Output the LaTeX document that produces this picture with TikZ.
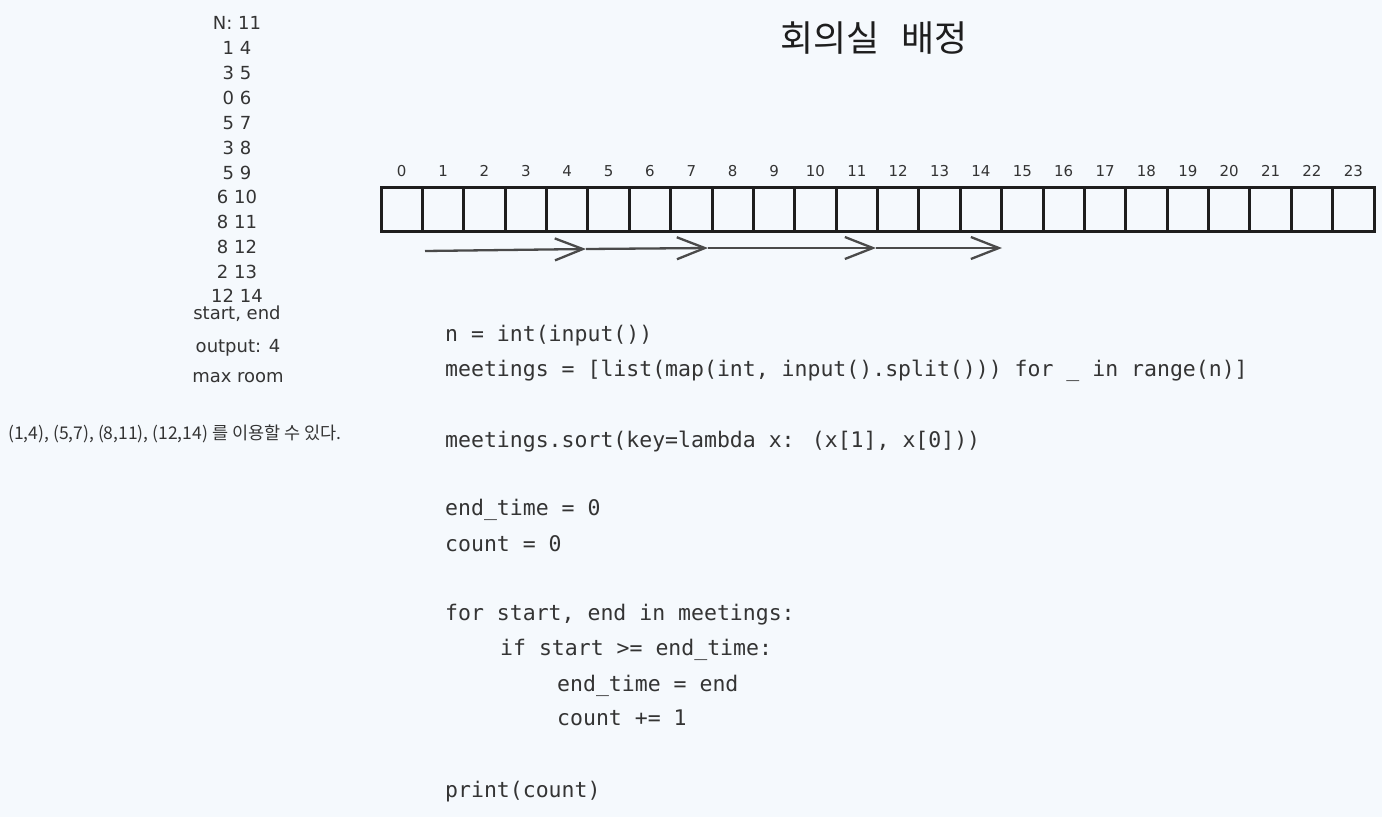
\documentclass[tikz,border=0pt]{standalone}
\usepackage{fontspec}
\setmainfont{DejaVu Sans}
\newfontfamily\codefont{DejaVu Sans Mono}
\newfontfamily\krfont{Noto Sans CJK KR}
\usetikzlibrary{arrows.meta}
\definecolor{bg}{RGB}{245,249,253}
\definecolor{ink}{RGB}{30,30,30}
\definecolor{txt}{RGB}{52,52,52}
\definecolor{arr}{RGB}{74,74,74}
\begin{document}
\begin{tikzpicture}[x=1pt,y=-1pt,
  lbl/.style={font=\fontsize{18}{18}\selectfont, text=txt, inner sep=0pt, anchor=base},
  cellnum/.style={font=\fontsize{15}{15}\selectfont, text=txt, inner sep=0pt, anchor=base},
  codeline/.style={font=\codefont\fontsize{21.5}{21.5}\selectfont, text=txt, inner sep=0pt, anchor=base west},
  cellbox/.style={draw=ink, line width=3pt, minimum width=41.375pt, minimum height=44pt, inner sep=0pt},
  flow/.style={draw=arr, line width=2.3pt, -{Straight Barb[length=28pt,width=22pt]}}
]
\fill[bg] (0,0) rectangle (1382,817);
\useasboundingbox (0,0) rectangle (1382,817);

% title
\node[font=\krfont\fontsize{36}{36}\selectfont, text=ink, inner sep=0pt] (title) at (874,38) {회의실\hspace{0.6em}배정};

% left input column
\node[lbl] (n0) at (237,29) {N: 11};
\node[lbl] (n1) at (237,54) {1 4};
\node[lbl] (n2) at (237,79) {3 5};
\node[lbl] (n3) at (237,104) {0 6};
\node[lbl] (n4) at (237,129) {5 7};
\node[lbl] (n5) at (237,154) {3 8};
\node[lbl] (n6) at (237,179) {5 9};
\node[lbl] (n7) at (237,203) {6 10};
\node[lbl] (n8) at (237,228) {8 11};
\node[lbl] (n9) at (237,253) {8 12};
\node[lbl] (n10) at (237,278) {2 13};
\node[lbl] (n11) at (237,302) {12 14};
\node[lbl] (se) at (237,319) {start, end};
\node[lbl] (out) at (238,352) {output: 4};
\node[lbl] (mr) at (238,382) {max room};
\node[font=\krfont\fontsize{17.5}{17.5}\selectfont, text=txt, inner sep=0pt, anchor=base west] (note) at (8,439) {(1,4), (5,7), (8,11), (12,14) 를 이용할 수 있다.};

% timeline cells
\foreach \i in {0,...,23}{
  \node[cellbox] (c\i) at ({381+41.375*(\i+0.5)},209) {};
  \node[cellnum] (t\i) at ({381+41.375*(\i+0.5)},176) {\i};
}

% selected meetings arrows
\coordinate (a0) at (425,251);
\coordinate (a1) at (586,249);
\coordinate (a2) at (708,248);
\coordinate (a3) at (876,248);
\coordinate (a4) at (1002,248);
\draw[flow] (a0) -- (a1);
\draw[flow] (a1) -- (a2);
\draw[flow] (a2) -- (a3);
\draw[flow] (a3) -- (a4);

% code
\node[codeline] (l1) at (445,341) {n = int(input())};
\node[codeline] (l2) at (445,376) {meetings = [list(map(int, input().split())) for \_ in range(n)]};
\node[codeline] (l3) at (445,447) {meetings.sort(key=lambda x: (x[1], x[0]))};
\node[codeline] (l4) at (445,515) {end\_time = 0};
\node[codeline] (l5) at (445,551) {count = 0};
\node[codeline] (l6) at (445,620) {for start, end in meetings:};
\node[codeline] (l7) at (500,655) {if start >= end\_time:};
\node[codeline] (l8) at (557,691) {end\_time = end};
\node[codeline] (l9) at (557,725) {count += 1};
\node[codeline] (l10) at (445,797) {print(count)};
\end{tikzpicture}
\end{document}
